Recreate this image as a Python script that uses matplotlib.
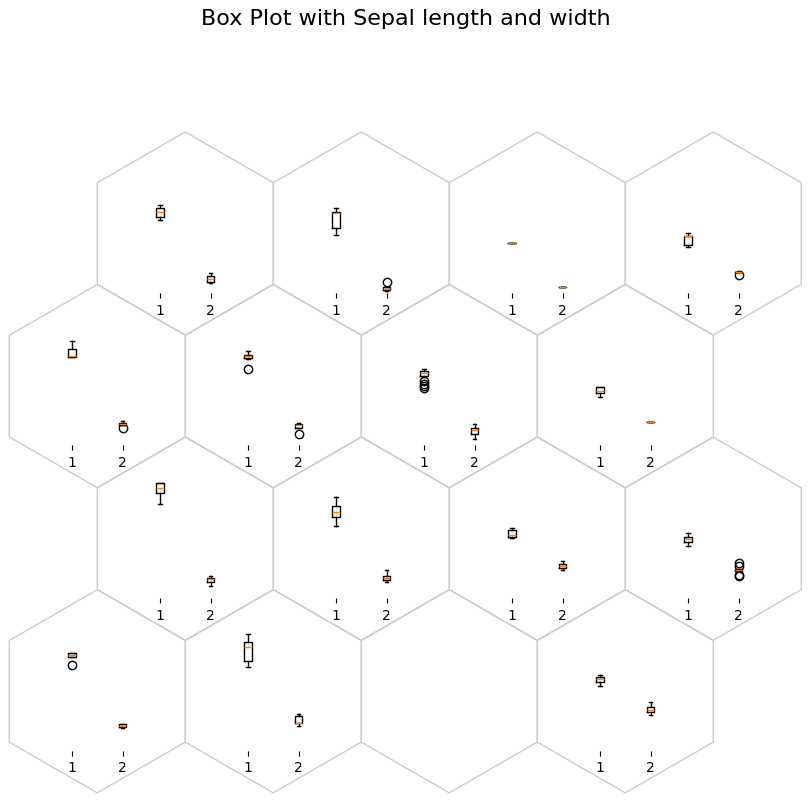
import matplotlib
matplotlib.use("Agg")
import matplotlib.pyplot as plt
from matplotlib.patches import RegularPolygon

# ---- data ----
# hexagon grid cells (row, col); cell (3, 2) is an empty hexagon
cells = [(0, 0), (0, 1), (0, 2), (0, 3),
         (1, 0), (1, 1), (1, 2), (1, 3),
         (2, 0), (2, 1), (2, 2), (2, 3),
         (3, 0), (3, 1), (3, 2), (3, 3)]
empty_cells = [(3, 2)]

# five-number summaries: whislo, q1, median, q3, whishi
sepal_length_stats = {
    (0, 0): [5.64, 5.81, 6.07, 6.24, 6.40],
    (0, 1): [4.88, 5.24, 6.00, 6.04, 6.28],
    (0, 2): [4.47, 4.47, 4.47, 4.47, 4.47],
    (0, 3): [4.26, 4.35, 4.81, 4.81, 5.00],
    (1, 0): [6.45, 6.45, 6.52, 6.88, 7.29],
    (1, 1): [6.35, 6.40, 6.48, 6.57, 6.74],
    (1, 2): [5.41, 5.48, 5.62, 5.71, 5.83],
    (1, 3): [4.38, 4.59, 4.68, 4.88, 4.88],
    (2, 0): [6.73, 7.32, 7.56, 7.80, 7.80],
    (2, 1): [5.62, 6.08, 6.34, 6.65, 7.08],
    (2, 2): [4.98, 5.05, 5.13, 5.39, 5.51],
    (2, 3): [4.58, 4.79, 4.96, 5.05, 5.22],
    (3, 0): [6.72, 6.72, 6.84, 6.92, 6.92],
    (3, 1): [6.20, 6.51, 7.23, 7.49, 7.90],
    (3, 3): [5.22, 5.43, 5.58, 5.68, 5.80],
}
sepal_length_fliers = {
    (1, 1): [5.84],
    (1, 2): [5.19, 5.07, 4.97, 4.86],
    (3, 0): [6.32],
}
sepal_width_stats = {
    (0, 0): [2.40, 2.48, 2.62, 2.76, 2.92],
    (0, 1): [2.00, 2.05, 2.12, 2.20, 2.20],
    (0, 2): [2.19, 2.19, 2.19, 2.19, 2.19],
    (0, 3): [2.95, 2.95, 2.95, 2.95, 2.95],
    (1, 0): [2.95, 2.95, 3.00, 3.07, 3.13],
    (1, 1): [2.79, 2.79, 2.93, 3.00, 3.07],
    (1, 2): [2.25, 2.47, 2.69, 2.81, 2.99],
    (1, 3): [3.10, 3.10, 3.10, 3.10, 3.10],
    (2, 0): [2.52, 2.70, 2.86, 2.95, 3.05],
    (2, 1): [2.72, 2.81, 2.95, 3.05, 3.36],
    (2, 2): [3.32, 3.46, 3.55, 3.67, 3.79],
    (2, 3): [3.28, 3.28, 3.32, 3.38, 3.38],
    (3, 0): [3.05, 3.13, 3.18, 3.27, 3.27],
    (3, 1): [3.15, 3.31, 3.32, 3.70, 3.79],
    (3, 3): [3.75, 3.87, 3.99, 4.16, 4.39],
}
sepal_width_fliers = {
    (0, 1): [2.45],
    (0, 3): [2.81],
    (1, 0): [2.78],
    (1, 1): [2.48],
    (2, 3): [3.71, 3.53, 3.10, 3.01],
}
tick_labels = ["1", "2"]
title = "Box Plot with Sepal length and width"
y_limits = (1.9, 8.0)

# ---- layout ----
W, H = 811, 804
fig = plt.figure(figsize=(W / 100, H / 100), dpi=100)

R = 101.6
DX = 176.0
DY = 152.6
AX_W, AX_H = 101.0, 118.6


def hex_center(r, c):
    x0 = 185.3 if r % 2 == 0 else 97.3
    return x0 + DX * c, 234.5 + DY * r


bg = fig.add_axes([0, 0, 1, 1])
bg.set_xlim(0, W)
bg.set_ylim(H, 0)
bg.axis("off")
for (r, c) in cells:
    cx, cy = hex_center(r, c)
    bg.add_patch(RegularPolygon((cx, cy), 6, radius=R, orientation=0,
                                facecolor="none", edgecolor="#cccccc", lw=1.0))


def make_stats(s, fl):
    return {"whislo": s[0], "q1": s[1], "med": s[2], "q3": s[3],
            "whishi": s[4], "fliers": fl}


for (r, c) in cells:
    if (r, c) in empty_cells:
        continue
    cx, cy = hex_center(r, c)
    ax = fig.add_axes([(cx - AX_W / 2) / W, 1 - (cy + AX_H / 2) / H,
                       AX_W / W, AX_H / H])
    stats = [make_stats(sepal_length_stats[(r, c)], sepal_length_fliers.get((r, c), [])),
             make_stats(sepal_width_stats[(r, c)], sepal_width_fliers.get((r, c), []))]
    ax.bxp(stats, positions=[1, 2])
    ax.set_xlim(0.5, 2.5)
    ax.set_ylim(*y_limits)
    ax.set_xticks([1, 2], labels=tick_labels)
    ax.set_yticks([])
    for sp in ax.spines.values():
        sp.set_visible(False)
    ax.patch.set_visible(False)

fig.text(0.5, 1 - 9 / H, title, ha="center", va="top", fontsize=16)

fig.savefig("out.png", dpi=100)
